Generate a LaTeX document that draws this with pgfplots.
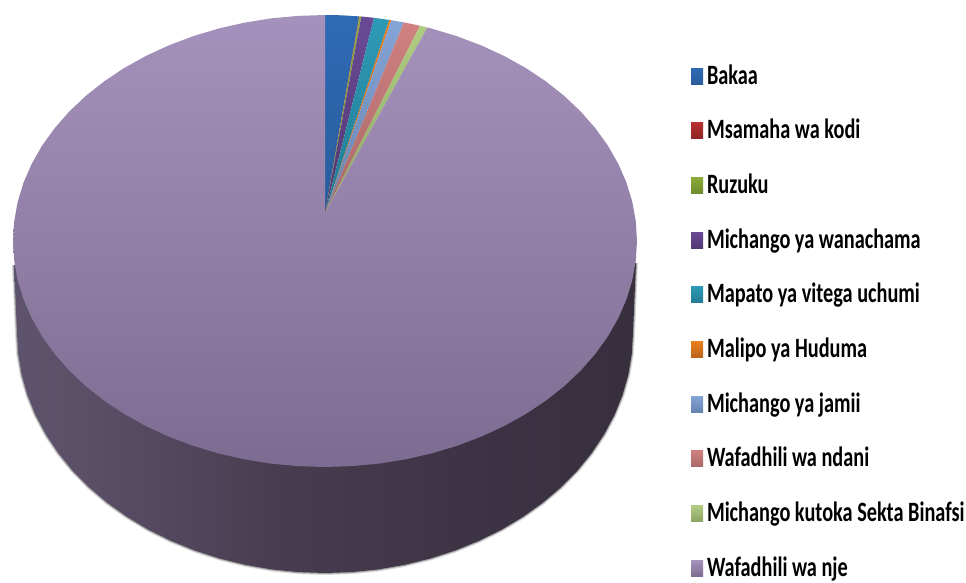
\documentclass[border=0pt]{standalone}
\usepackage{fontspec}
\setmainfont{Carlito}[FakeStretch=0.725]
\usepackage{pgfplots}
\usepackage{pgfplotstable}
\pgfplotsset{compat=1.18}
\definecolor{c1t}{HTML}{2F6AB5}\definecolor{c1b}{HTML}{2A5C9C}
\definecolor{c2t}{HTML}{B83030}\definecolor{c2b}{HTML}{8E2424}
\definecolor{c3t}{HTML}{8AAA38}\definecolor{c3b}{HTML}{6C8B2B}
\definecolor{c4t}{HTML}{6A4A96}\definecolor{c4b}{HTML}{523873}
\definecolor{c5t}{HTML}{2E9AB6}\definecolor{c5b}{HTML}{217A92}
\definecolor{c6t}{HTML}{E8801E}\definecolor{c6b}{HTML}{B8621A}
\definecolor{c7t}{HTML}{85A4D6}\definecolor{c7b}{HTML}{6584AE}
\definecolor{c8t}{HTML}{D08080}\definecolor{c8b}{HTML}{A86868}
\definecolor{c9t}{HTML}{B0CC80}\definecolor{c9b}{HTML}{8CA564}
\definecolor{c0t}{HTML}{A592BC}\definecolor{c0b}{HTML}{7D6C91}
\definecolor{s0}{HTML}{736888}
\definecolor{s1}{HTML}{7A6A8C}
\definecolor{s2}{HTML}{665A76}
\definecolor{s3}{HTML}{5B5068}
\definecolor{s4}{HTML}{483D50}
\definecolor{s5}{HTML}{3C3344}
\definecolor{s6}{HTML}{362E3C}
\definecolor{s7}{HTML}{3A3340}
\pgfdeclarehorizontalshading{sidegrad}{100bp}{
 color(0bp)=(s0);
 color(8bp)=(s1);
 color(14bp)=(s2);
 color(30bp)=(s3);
 color(46bp)=(s4);
 color(62bp)=(s5);
 color(78bp)=(s6);
 color(100bp)=(s7)}
\pgfplotstableread{
x y
636 263
633 333
631.8 353.9
628.3 374.7
622.5 395.1
614.4 415.1
604.1 434.4
591.7 453
577.3 470.7
560.9 487.3
542.8 502.7
523 516.8
501.7 529.6
479 540.8
455.2 550.5
430.3 558.5
404.7 564.8
378.5 569.4
351.9 572.1
325 573
298.1 572.1
271.5 569.4
245.3 564.8
219.7 558.5
194.8 550.5
171 540.8
148.3 529.6
127 516.8
107.2 502.7
89.1 487.3
72.7 470.7
58.3 453
45.9 434.4
35.6 415.1
27.5 395.1
21.7 374.7
18.2 353.9
17 333
14 265
}\sideTable
\pgfplotstableread{
x y
325 213
427.3 27.5
431.7 28.6
456.9 36.2
481 45.3
504 55.9
525.6 67.9
545.6 81.2
564 95.7
580.6 111.4
595.2 128
607.8 145.5
618.2 163.7
626.4 182.5
632.3 201.8
635.8 221.3
637 241
635.8 260.7
632.3 280.2
626.4 299.5
618.2 318.3
607.8 336.5
595.2 354
580.6 370.6
564 386.3
545.6 400.8
525.6 414.1
504 426.1
481 436.7
456.9 445.8
431.7 453.4
405.7 459.3
379.2 463.6
352.2 466.1
325 467
297.8 466.1
270.8 463.6
244.3 459.3
218.3 453.4
193.1 445.8
169 436.7
146 426.1
124.4 414.1
104.4 400.8
86 386.3
69.4 370.6
54.8 354
42.2 336.5
31.8 318.3
23.6 299.5
17.7 280.2
14.2 260.7
13 241
14.2 221.3
17.7 201.8
23.6 182.5
31.8 163.7
42.2 145.5
54.8 128
69.4 111.4
86 95.7
104.4 81.2
124.4 67.9
146 55.9
169 45.3
193.1 36.2
218.3 28.6
244.3 22.7
270.8 18.4
297.8 15.9
325 15
}\njeTable
\begin{document}
\begin{tikzpicture}
\begin{axis}[
  scale only axis, width=966pt, height=583pt,
  xmin=0, xmax=966, ymin=0, ymax=583, y dir=reverse,
  hide axis, clip=false,
  legend image code/.code={\path[#1,draw=none] (0pt,0pt) rectangle (12pt,16pt);},
  legend cell align=left,
  legend style={at={(axis cs:691,65)}, anchor=north west, draw=none, fill=none,
    inner sep=0pt, outer sep=0pt, row sep=0pt,
    font=\fontsize{28}{30}\selectfont\bfseries,
    nodes={inner sep=0pt, outer sep=0pt, text height=19pt, text depth=35.7pt, anchor=base west},
    /tikz/every odd column/.append style={column sep=4pt}},
]
\addplot[forget plot, draw=black!60, draw opacity=0.25, line width=4pt, fill=none] table[x=x,y=y]{\sideTable};
\addplot[forget plot, draw=black!60, draw opacity=0.45, line width=2pt, fill=none] table[x=x,y=y]{\sideTable};
\addplot[forget plot, draw=none, shade, shading=sidegrad] table[x=x,y=y]{\sideTable};
\addplot[draw=none, top color=c1t, bottom color=c1b] coordinates {(325,213) (325,15) (342,15.3) (359.1,16.4)};
\addplot[draw=none, top color=c2t, bottom color=c2b] coordinates {(325,213) (359.1,16.4) (359.5,16.4)};
\addplot[draw=none, top color=c3t, bottom color=c3b] coordinates {(325,213) (359.5,16.4) (361.3,16.5)};
\addplot[draw=none, top color=c4t, bottom color=c4b] coordinates {(325,213) (361.3,16.5) (374,17.8)};
\addplot[draw=none, top color=c5t, bottom color=c5b] coordinates {(325,213) (374,17.8) (389.3,19.9)};
\addplot[draw=none, top color=c6t, bottom color=c6b] coordinates {(325,213) (389.3,19.9) (391.3,20.2)};
\addplot[draw=none, top color=c7t, bottom color=c7b] coordinates {(325,213) (391.3,20.2) (404,22.4)};
\addplot[draw=none, top color=c8t, bottom color=c8b] coordinates {(325,213) (404,22.4) (420,25.7)};
\addplot[draw=none, top color=c9t, bottom color=c9b] coordinates {(325,213) (420,25.7) (427.3,27.5)};
\addplot[draw=none, top color=c0t, bottom color=c0b] table[x=x,y=y]{\njeTable};
\legend{Bakaa,Msamaha wa kodi,Ruzuku,Michango ya wanachama,Mapato ya vitega uchumi,Malipo ya Huduma,Michango ya jamii,Wafadhili wa ndani,Michango kutoka Sekta Binafsi,Wafadhili wa nje}
\end{axis}
\pgfresetboundingbox
\path[use as bounding box] (0,0) rectangle (966pt,583pt);
\end{tikzpicture}
\end{document}
